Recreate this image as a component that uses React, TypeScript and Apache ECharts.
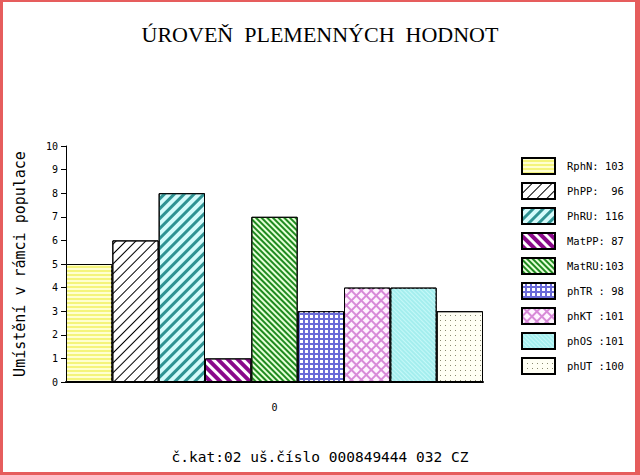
import { useRef, useEffect } from 'react';
import * as echarts from 'echarts';

const categories = ['0'];
const seriesNames = [
  'RphN: 103',
  'PhPP:  96',
  'PhRU: 116',
  'MatPP: 87',
  'MatRU:103',
  'phTR : 98',
  'phKT :101',
  'phOS :101',
  'phUT :100',
];
const seriesValues = [5, 6, 8, 1, 7, 3, 4, 4, 3];
const yTicks = [0, 10, 1]; // min, max, interval

const D = Math.PI / 4;
// fill + hatch pattern per series
const looks = [
  { color: '#f4f47c', decal: { color: '#ffffd0', dashArrayX: [1, 0], dashArrayY: [2, 2], rotation: 0 } },
  { color: '#ffffff', decal: { color: '#000000', dashArrayX: [1, 0], dashArrayY: [1, 6], rotation: -D } },
  { color: '#d4fbfb', decal: { color: '#2f9393', dashArrayX: [1, 0], dashArrayY: [3, 4], rotation: -D } },
  { color: '#ffffff', decal: { color: '#8a0a8a', dashArrayX: [1, 0], dashArrayY: [4, 3], rotation: D } },
  { color: '#e6ffd8', decal: { color: '#1f8a1f', dashArrayX: [1, 0], dashArrayY: [1.5, 1.5], rotation: D } },
  { color: '#6a6ad8', decal: { color: '#ffffff', dashArrayX: [2.5, 1.5], dashArrayY: [2.5, 1.5], rotation: 0 } },
  { color: '#d88ad8', decal: { color: '#fff4ff', dashArrayX: [5, 1.5], dashArrayY: [5, 1.5], rotation: D } },
  { color: '#a4eeee', decal: { color: '#c6f8f8', dashArrayX: [1, 0], dashArrayY: [1, 2], rotation: D } },
  { color: '#fffff4', decal: { color: '#8a8a70', dashArrayX: [1, 4], dashArrayY: [1, 4], rotation: 0 } },
];

export default function App() {
  const chartRef = useRef<HTMLDivElement>(null);
  useEffect(() => {
    document.body.style.margin = '0';
    let chart: echarts.ECharts | undefined;
    if (chartRef.current) {
      chart = echarts.init(chartRef.current, null, { renderer: 'svg' });
      const mono = 'DejaVu Sans Mono';
      const red = '#e65d5d';
      chart.setOption({
        animation: false,
        backgroundColor: '#ffffff',
        title: {
          text: 'ÚROVEŇ  PLEMENNÝCH  HODNOT',
          left: 'center',
          top: 18,
          textStyle: { fontFamily: 'Liberation Serif', fontSize: 22, fontWeight: 'normal', color: '#000' },
        },
        legend: {
          orient: 'vertical',
          left: 516,
          top: 152,
          itemWidth: 33,
          itemHeight: 16,
          itemGap: 7,
          icon: 'rect',
          textStyle: { fontFamily: mono, fontSize: 10.5, color: '#000', padding: [0, 0, 0, 7] },
          data: seriesNames,
        },
        grid: { left: 66, right: 157, top: 146, bottom: 93 },
        xAxis: {
          type: 'category',
          data: categories,
          axisLine: { lineStyle: { color: '#000', width: 2 } },
          axisTick: { show: false },
          axisLabel: { color: '#000', fontFamily: mono, fontSize: 10, margin: 20 },
        },
        yAxis: {
          type: 'value',
          min: yTicks[0],
          max: yTicks[1],
          interval: yTicks[2],
          name: 'Umístění v rámci populace',
          nameLocation: 'middle',
          nameRotate: 90,
          nameGap: 39,
          nameTextStyle: { fontFamily: mono, fontSize: 15, color: '#000' },
          axisLine: { show: true, lineStyle: { color: '#000', width: 1 } },
          axisTick: { show: true, length: 5, lineStyle: { color: '#000' } },
          splitLine: { show: false },
          axisLabel: { color: '#000', fontFamily: mono, fontSize: 10, margin: 8 },
        },
        series: seriesNames.map((name, i) => ({
          name,
          type: 'bar',
          data: [seriesValues[i]],
          barGap: '0%',
          barCategoryGap: '0%',
          itemStyle: {
            color: looks[i].color,
            borderColor: '#000',
            borderWidth: 1,
            decal: { symbol: 'rect', symbolSize: 1, ...looks[i].decal },
          },
        })),
        graphic: [
          { type: 'rect', shape: { x: 0, y: 0, width: 640, height: 2 }, style: { fill: red } },
          { type: 'rect', shape: { x: 0, y: 472, width: 640, height: 3 }, style: { fill: red } },
          { type: 'rect', shape: { x: 0, y: 0, width: 3, height: 475 }, style: { fill: red } },
          { type: 'rect', shape: { x: 635, y: 0, width: 5, height: 475 }, style: { fill: red } },
          {
            type: 'text',
            left: 'center',
            top: 449,
            style: {
              text: 'č.kat:02 uš.číslo 000849444 032 CZ',
              font: `14.5px "${mono}"`,
              fill: '#000',
            },
          },
        ],
      });
    }
    return () => {
      chart?.dispose();
    };
  }, []);

  return <div ref={chartRef} style={{ width: 640, height: 475 }} />;
}
